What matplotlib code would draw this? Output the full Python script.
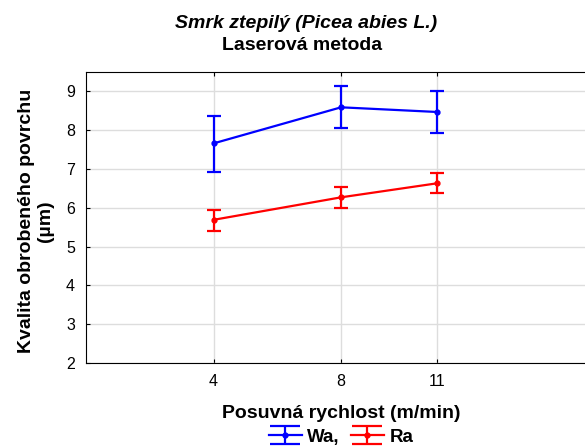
import matplotlib.pyplot as plt
from matplotlib.container import ErrorbarContainer
from matplotlib.legend_handler import HandlerErrorbar

plt.rcParams['font.family'] = ['Liberation Sans', 'DejaVu Sans']

speed = [4, 8, 11]
wa_mean = [7.66, 8.59, 8.47]
wa_low = [6.92, 8.05, 7.92]
wa_high = [8.37, 9.13, 9.01]
ra_mean = [5.69, 6.27, 6.63]
ra_low = [5.40, 5.99, 6.37]
ra_high = [5.94, 6.53, 6.89]
yticks = [2, 3, 4, 5, 6, 7, 8, 9]

W, H = 585, 447
fig = plt.figure(figsize=(W / 100, H / 100), dpi=100)
ax = fig.add_axes([86 / W, 1 - 363 / H, 1 - 86 / W, (363 - 72) / H])

wa_err = [[m - l for m, l in zip(wa_mean, wa_low)], [h - m for m, h in zip(wa_mean, wa_high)]]
ra_err = [[m - l for m, l in zip(ra_mean, ra_low)], [h - m for m, h in zip(ra_mean, ra_high)]]

ax.errorbar(speed, wa_mean, yerr=wa_err, color='#0000ff', lw=1.6, marker='o', ms=3.5,
            capsize=5, capthick=1.6, elinewidth=1.6, label='Wa,')
ax.errorbar(speed, ra_mean, yerr=ra_err, color='#ff0000', lw=1.6, marker='o', ms=3.5,
            capsize=5, capthick=1.6, elinewidth=1.6, label='Ra')

ax.set_xlim(0, 15.65)
ax.set_ylim(2, 9.5)
ax.set_xticks(speed)
ax.set_yticks(yticks)
ax.grid(True, color='#dddddd', lw=1)
ax.set_axisbelow(True)
ax.spines['right'].set_visible(False)
ax.tick_params(direction='in', length=3, top=True, labelsize=11.5, pad=8)

# titles and axis labels placed in pixel positions
fig.text(306 / W, 1 - 23 / H, 'Smrk ztepilý (Picea abies L.)', ha='center', va='center',
         fontsize=14, fontweight='bold', style='italic')
fig.text(302 / W, 1 - 45 / H, 'Laserová metoda', ha='center', va='center',
         fontsize=14, fontweight='bold')
fig.text(36 / W, 1 - 221 / H, 'Kvalita obrobeného povrchu\n(µm)', ha='center', va='center',
         rotation=90, fontsize=14, fontweight='bold', linespacing=1.1)
fig.text(341 / W, 1 - 413 / H, 'Posuvná rychlost (m/min)', ha='center', va='center',
         fontsize=14, fontweight='bold')


def wide_caps(handle, orig):
    handle.update_from(orig)
    if hasattr(orig, 'get_marker') and orig.get_marker() == '_':
        handle.set_markersize(22)


leg = fig.legend(loc='center', bbox_to_anchor=(341 / W, 1 - 437 / H), ncol=2, frameon=False,
                 fontsize=13.5, handlelength=1.75, columnspacing=0.6, handletextpad=0.3,
                 borderaxespad=0, borderpad=0,
                 handler_map={ErrorbarContainer: HandlerErrorbar(update_func=wide_caps)})
for t in leg.get_texts():
    t.set_fontweight('bold')

fig.savefig('out.png', dpi=100)
